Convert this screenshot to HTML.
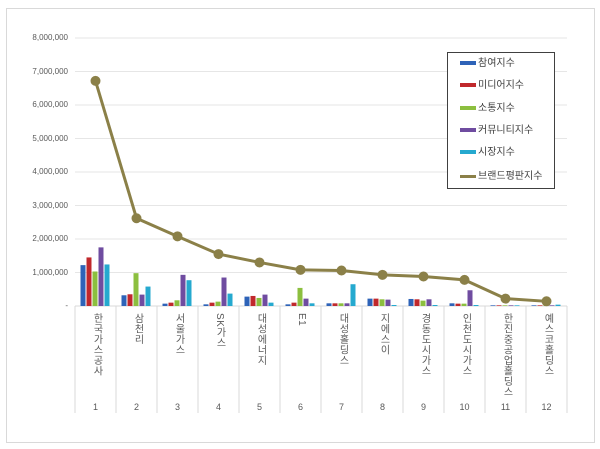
<!DOCTYPE html>
<html><head><meta charset="utf-8"><style>
body{margin:0;background:#fff;width:600px;height:449px;overflow:hidden;font-family:"Liberation Sans","Noto Sans CJK KR",sans-serif}
.lab{position:absolute;top:313px;writing-mode:vertical-rl;font-size:10px;line-height:10px;color:#595959;letter-spacing:0.5px;font-family:"Liberation Sans","Noto Sans CJK KR",sans-serif}
.num{position:absolute;top:402px;font-size:9px;color:#595959;width:41px;text-align:center}
.ytick{position:absolute;left:0;width:68px;text-align:right;font-size:8px;color:#595959}
.leg{position:absolute;left:447px;top:52px;width:106px;height:135px;border:1px solid #404040;background:#fff}
.li{position:absolute;left:12px;font-size:10px;color:#404040;height:12px;line-height:12px}
.sw{display:inline-block;width:16px;height:4px;vertical-align:middle;margin-right:2px}
</style></head><body>
<div style="position:absolute;left:6px;top:8px;width:587px;height:433px;border:1px solid #d9d9d9"></div>
<svg id="s" width="600" height="449" style="position:absolute;left:0;top:0"></svg>
<div class="ytick" style="top:33px">8,000,000</div>
<div class="ytick" style="top:67px">7,000,000</div>
<div class="ytick" style="top:100px">6,000,000</div>
<div class="ytick" style="top:134px">5,000,000</div>
<div class="ytick" style="top:167px">4,000,000</div>
<div class="ytick" style="top:201px">3,000,000</div>
<div class="ytick" style="top:234px">2,000,000</div>
<div class="ytick" style="top:268px">1,000,000</div>
<div class="ytick" style="top:301px">-</div>
<div class="lab" style="left:91px">한국가스공사</div>
<div class="lab" style="left:132px">삼천리</div>
<div class="lab" style="left:173px">서울가스</div>
<div class="lab" style="left:214px">SK가스</div>
<div class="lab" style="left:255px">대성에너지</div>
<div class="lab" style="left:296px">E1</div>
<div class="lab" style="left:337px">대성홀딩스</div>
<div class="lab" style="left:378px">지에스이</div>
<div class="lab" style="left:419px">경동도시가스</div>
<div class="lab" style="left:460px">인천도시가스</div>
<div class="lab" style="left:501px">한진중공업홀딩스</div>
<div class="lab" style="left:542px">예스코홀딩스</div>
<div class="num" style="left:75px">1</div><div class="num" style="left:116px">2</div><div class="num" style="left:157px">3</div><div class="num" style="left:198px">4</div><div class="num" style="left:239px">5</div><div class="num" style="left:280px">6</div><div class="num" style="left:321px">7</div><div class="num" style="left:362px">8</div><div class="num" style="left:403px">9</div><div class="num" style="left:444px">10</div><div class="num" style="left:485px">11</div><div class="num" style="left:526px">12</div>
<div class="leg">
<div class="li" style="top:5px"><span class="sw" style="background:#2e63b8"></span>참여지수</div>
<div class="li" style="top:27px"><span class="sw" style="background:#c0282c"></span>미디어지수</div>
<div class="li" style="top:50px"><span class="sw" style="background:#8cbf3f"></span>소통지수</div>
<div class="li" style="top:72px"><span class="sw" style="background:#6f4ca0"></span>커뮤니티지수</div>
<div class="li" style="top:94px"><span class="sw" style="background:#25a9cf"></span>시장지수</div>
<div class="li" style="top:118px"><span class="sw" style="background:#8b8048;height:3px"></span>브랜드평판지수</div>
</div>
<script>
var s=document.getElementById('s'),h='';
var y0=306,k=33.5,x0=75,w=41;
for(var i=1;i<=8;i++){var y=y0-i*k;h+='<line x1="75" x2="567" y1="'+y+'" y2="'+y+'" stroke="#e6e6e6"/>';}
h+='<line x1="75" x2="567" y1="306" y2="306" stroke="#d9d9d9"/>';
for(var i=0;i<=12;i++){var x=x0+i*w;h+='<line x1="'+x+'" x2="'+x+'" y1="306" y2="413" stroke="#d9d9d9"/>';}
var d=[[1.22,1.45,1.03,1.75,1.24],[.32,.35,.98,.34,.58],[.07,.1,.17,.93,.77],[.05,.1,.13,.85,.37],[.28,.3,.24,.34,.1],[.05,.1,.54,.22,.08],[.08,.08,.08,.08,.65],[.22,.22,.2,.19,.03],[.21,.2,.16,.2,.03],[.08,.07,.07,.47,.03],[.02,.02,.02,.02,.02],[.02,.02,.02,.02,.04]];
var c=['#2e63b8','#c0282c','#8cbf3f','#6f4ca0','#25a9cf'];
var L=[6.72,2.62,2.08,1.55,1.3,1.08,1.06,.93,.88,.78,.22,.14];
d.forEach(function(g,i){var cx=x0+i*w+w/2;g.forEach(function(v,j){var bh=v*k;h+='<rect x="'+(cx-15+j*6)+'" y="'+(y0-bh)+'" width="5" height="'+bh+'" fill="'+c[j]+'"/>';});});
var p=L.map(function(v,i){return (x0+i*w+w/2)+','+(y0-v*k)}).join(' ');
h+='<polyline points="'+p+'" fill="none" stroke="#8b8048" stroke-width="3"/>';
L.forEach(function(v,i){h+='<circle cx="'+(x0+i*w+w/2)+'" cy="'+(y0-v*k)+'" r="5" fill="#8b8048"/>';});
s.innerHTML=h;
</script>
</body></html>
